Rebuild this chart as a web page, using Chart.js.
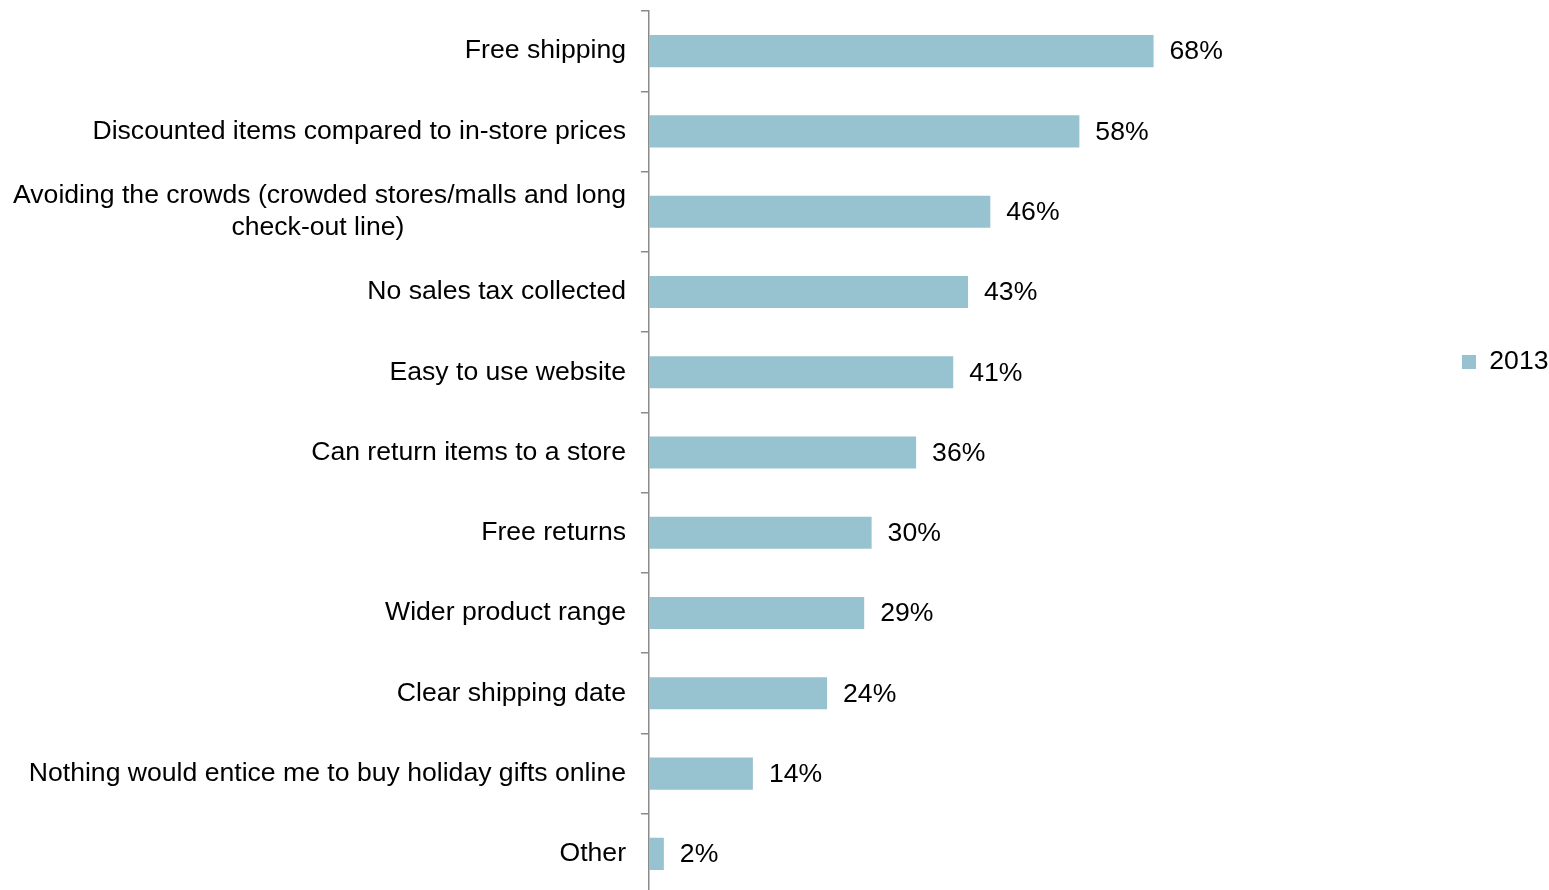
<!DOCTYPE html>
<html>
<head>
<meta charset="utf-8">
<title>Reasons to shop online for holiday gifts</title>
<script src="https://cdn.jsdelivr.net/npm/chart.js@4.4.1/dist/chart.umd.min.js"></script>
<style>
  html, body { margin: 0; padding: 0; background: #ffffff; overflow: hidden; }
  #wrap { position: relative; width: 1549px; height: 900px; }
</style>
</head>
<body>
<div id="wrap"><canvas id="chart"></canvas></div>
<script>
// Survey answers, top to bottom
const categories = [
  'Free shipping',
  'Discounted items compared to in-store prices',
  ['Avoiding the crowds (crowded stores/malls and long', 'check-out line)'],
  'No sales tax collected',
  'Easy to use website',
  'Can return items to a store',
  'Free returns',
  'Wider product range',
  'Clear shipping date',
  'Nothing would entice me to buy holiday gifts online',
  'Other'
];
const seriesName = '2013';
const values2013 = [68, 58, 46, 43, 41, 36, 30, 29, 24, 14, 2];

const BAR_COLOR = '#97c2cf';
const AXIS_COLOR = '#8a8a8a';
const FONT = '"Liberation Sans", Arial, sans-serif';
const FONT_SIZE = 26.6;
const PX_PER_POINT = 7.42;   // horizontal scale density

// Wrapped labels: centre the shorter lines under the longest one
// (tick labels are right-aligned, so pad shorter lines with trailing spaces)
const measureCtx = document.createElement('canvas').getContext('2d');
measureCtx.font = FONT_SIZE + 'px ' + FONT;
function centreLines(label) {
  if (!Array.isArray(label)) return label;
  const widths = label.map(l => measureCtx.measureText(l).width);
  const widest = Math.max(...widths);
  const space = measureCtx.measureText(' ').width;
  return label.map((l, i) => l + ' '.repeat(Math.round((widest - widths[i]) / 2 / space)));
}

// Percentage labels to the right of each bar
const valueLabels = {
  id: 'valueLabels',
  afterDatasetsDraw(chart) {
    const ctx = chart.ctx;
    const meta = chart.getDatasetMeta(0);
    ctx.save();
    ctx.font = FONT_SIZE + 'px ' + FONT;
    ctx.fillStyle = '#000000';
    ctx.textAlign = 'left';
    ctx.textBaseline = 'middle';
    meta.data.forEach((bar, i) => {
      ctx.fillText(values2013[i] + '%', bar.x + 16, bar.y + 1);
    });
    ctx.restore();
  }
};

// Place the legend at the right edge, a little above the middle
const legendPlacement = {
  id: 'legendPlacement',
  afterLayout(chart) {
    const lg = chart.legend;
    if (!lg) return;
    const w = lg.width;
    lg.left = 1452;
    lg.right = lg.left + w;
    lg.top = 362 - 40;
    lg.bottom = 362 + 40;
  }
};

new Chart(document.getElementById('chart'), {
  type: 'bar',
  data: {
    labels: categories,
    datasets: [{
      label: seriesName,
      data: values2013,
      backgroundColor: BAR_COLOR,
      borderWidth: 0,
      barPercentage: 0.4,
      categoryPercentage: 1.0
    }]
  },
  options: {
    indexAxis: 'y',
    responsive: true,
    maintainAspectRatio: false,
    animation: false,
    layout: { padding: { top: 11, bottom: 6, left: 0, right: 0 } },
    scales: {
      x: {
        display: false,
        bounds: 'data',
        min: 0,
        afterDataLimits(scale) {
          scale.min = 0;
          scale.max = scale.width / PX_PER_POINT;
        }
      },
      y: {
        afterFit(scale) {
          scale.width = 649;
          scale.paddingTop = 0;
          scale.paddingBottom = 0;
        },
        border: { display: true, color: AXIS_COLOR, width: 1.5 },
        grid: {
          display: true,
          offset: true,
          drawOnChartArea: false,
          drawTicks: true,
          tickLength: 8,
          color: AXIS_COLOR,
          lineWidth: 1.5
        },
        ticks: {
          color: '#000000',
          padding: 15,
          font: { family: FONT, size: FONT_SIZE, lineHeight: 1.17 },
          autoSkip: false,
          callback(value) { return centreLines(categories[value]); }
        }
      }
    },
    plugins: {
      legend: {
        display: true,
        position: 'right',
        align: 'center',
        labels: {
          boxWidth: 14,
          boxHeight: 14,
          color: '#000000',
          padding: 10,
          font: { family: FONT, size: FONT_SIZE }
        }
      },
      tooltip: { enabled: false },
      title: { display: false }
    }
  },
  plugins: [valueLabels, legendPlacement]
});
</script>
</body>
</html>
